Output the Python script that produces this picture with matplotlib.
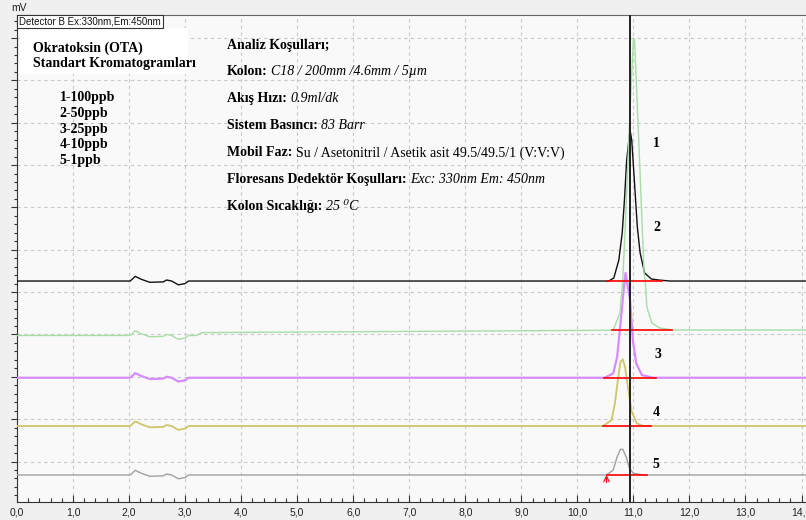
import matplotlib
matplotlib.use('Agg')
from matplotlib import pyplot as plt
from matplotlib.patches import Rectangle
from matplotlib.ticker import MultipleLocator, FuncFormatter

# retention time (min) / signal (mV)
# small solvent front disturbance seen on every trace (offset from baseline)
dist_t = [2.02, 2.11, 2.22, 2.37, 2.61, 2.67, 2.76, 2.88, 3.00, 3.06]
dist_v = [0.0, 0.55, 0.2, -0.15, -0.1, 0.12, 0.0, -0.45, -0.3, 0.0]

# 1 - 100 ppb (black)
base1 = 21.31
peak1_t = [10.56, 10.65, 10.74, 10.80, 10.84, 10.88, 10.94, 10.97, 11.02, 11.07, 11.12, 11.20, 11.32, 11.45, 11.65]
peak1_v = [21.31, 21.66, 23.79, 26.98, 30.87, 35.60, 39.14, 37.96, 32.88, 27.69, 24.62, 22.26, 21.55, 21.43, 21.31]

# 2 - 50 ppb (green), baseline drifts up a little after 3 min
base2 = 14.88
drift2_t = [3.20, 3.30, 10.60]
drift2_v = [14.88, 15.22, 15.50]
peak2_t = [10.64, 10.76, 10.81, 10.85, 10.94, 11.00, 11.02, 11.09, 11.15, 11.19, 11.21, 11.24, 11.33, 11.47, 11.71]
peak2_v = [15.53, 17.53, 21.43, 26.98, 41.50, 50.00, 49.76, 38.78, 28.87, 22.26, 21.43, 18.24, 16.35, 15.76, 15.53]
end2 = 15.53

# 3 - 25 ppb (purple)
base3 = 9.89
peak3_t = [10.49, 10.64, 10.71, 10.77, 10.82, 10.86, 10.94, 10.99, 11.05, 11.15, 11.35]
peak3_v = [9.89, 10.41, 12.37, 16.32, 19.86, 22.26, 19.07, 14.34, 11.59, 10.21, 9.89]

# 4 - 10 ppb (yellow)
base4 = 4.19
peak4_t = [10.46, 10.61, 10.67, 10.73, 10.77, 10.81, 10.85, 10.91, 10.97, 11.06, 11.18]
peak4_v = [4.19, 4.90, 6.87, 10.01, 11.78, 12.07, 11.19, 8.44, 5.88, 4.51, 4.19]

# 5 - 1 ppb (gray)
base5 = -1.59
peak5_t = [10.52, 10.64, 10.71, 10.77, 10.81, 10.87, 10.93, 11.00, 11.18]
peak5_v = [-1.59, -1.00, 0.57, 1.44, 1.44, 0.57, -0.80, -1.39, -1.59]

# integration baselines (start, end)
int1 = [10.53, 11.51]
int2 = [10.62, 11.69]
int3 = [10.47, 11.41]
int4 = [10.46, 11.31]
int5 = [10.52, 11.24]

cursor_t = 10.94
t_end = 14.08

peak_labels = ['1', '2', '3', '4', '5']
label_t = [11.35, 11.35, 11.38, 11.34, 11.34]
label_v = [37.6, 27.6, 12.6, 5.8, -0.4]

conc_labels = ['1-100ppb', '2-50ppb', '3-25ppb', '4-10ppb', '5-1ppb']

cond_bold = ['Kolon:', 'Akış Hızı:', 'Sistem Basıncı:', 'Mobil Faz:',
             'Floresans Dedektör Koşulları:', 'Kolon Sıcaklığı:']
cond_value = ['C18 / 200mm /4.6mm / 5µm', '0.9ml/dk', '83 Barr',
              'Su / Asetonitril / Asetik asit 49.5/49.5/1 (V:V:V)',
              'Exc: 330nm Em: 450nm', '25 ⁰C']
cond_italic = [True, True, True, False, True, True]


def trace(base, peak_t, peak_v, end=None, drift_t=(), drift_v=()):
    t = [0.0] + dist_t + list(drift_t) + peak_t + [t_end]
    v = [base] + [base + d for d in dist_v] + list(drift_v) + peak_v + [end if end is not None else base]
    return t, v


W, H = 806, 520
fig = plt.figure(figsize=(W / 100, H / 100), dpi=100, facecolor='#f0f0f0')
ax = fig.add_axes([17 / W, 18 / H, (W - 17) / W, (502 - 15) / H])
ax.set_facecolor('#f9f9f9')
ax.set_xlim(0, t_end)
ax.set_ylim(-4.78, 52.72)

ax.xaxis.set_major_locator(MultipleLocator(1))
ax.xaxis.set_minor_locator(MultipleLocator(0.2))
ax.yaxis.set_major_locator(MultipleLocator(5))
ax.yaxis.set_minor_locator(MultipleLocator(1))
ax.xaxis.set_major_formatter(FuncFormatter(lambda v, p: ('%.1f' % v).replace('.', ',')))
ax.yaxis.set_major_formatter(FuncFormatter(lambda v, p: '%d' % v))
ax.tick_params(axis='x', which='major', direction='in', length=5, width=0.8, color='#333333',
               labelsize=7.5, labelcolor='#222222', pad=4)
ax.tick_params(axis='x', which='minor', direction='in', length=3, width=0.8, color='#333333')
ax.tick_params(axis='y', which='major', direction='out', length=4, width=0.8, color='#333333',
               labelsize=7.5, labelcolor='#222222', pad=9)
ax.tick_params(axis='y', which='minor', direction='out', length=2.5, width=0.8, color='#333333')
for lab in ax.get_xticklabels() + ax.get_yticklabels():
    lab.set_family('Liberation Sans')
ax.grid(True, which='major', color='#c8c8c8', linestyle=(0, (3, 3)), linewidth=0.8)
ax.set_axisbelow(True)
ax.spines['right'].set_visible(False)
ax.spines['top'].set_color('#666666')
ax.spines['left'].set_color('#333333')
ax.spines['bottom'].set_color('#333333')

t, v = trace(base5, peak5_t, peak5_v)
ax.plot(t, v, color='#a0a0a0', lw=1.0, zorder=3)
t, v = trace(base4, peak4_t, peak4_v)
ax.plot(t, v, color='#cfc56a', lw=1.3, zorder=3)
t, v = trace(base3, peak3_t, peak3_v)
ax.plot(t, v, color='#d68cff', lw=1.6, zorder=3)
t, v = trace(base2, peak2_t, peak2_v, end=end2, drift_t=drift2_t, drift_v=drift2_v)
ax.plot(t, v, color='#a6dea6', lw=1.0, zorder=4)
t, v = trace(base1, peak1_t, peak1_v)
ax.plot(t, v, color='#111111', lw=1.0, zorder=3)

for seg, b in zip([int1, int2, int3, int4, int5], [base1, end2, base3, base4, base5]):
    ax.plot(seg, [b, b], color='#ff0000', lw=1.2, zorder=5)
ax.annotate('', xy=(int5[0], base5), xytext=(int5[0], base5 - 0.9),
            arrowprops=dict(arrowstyle='->', color='#ff0000', lw=0.8, shrinkA=0, shrinkB=0),
            zorder=6)

ax.axvline(cursor_t, color='#222222', lw=1.4, zorder=6)

for s, x, y in zip(peak_labels, label_t, label_v):
    ax.text(x, y, s, fontsize=10, fontweight='bold', family='Liberation Serif',
            ha='left', va='center', zorder=7)


def fx(px):
    return px / W


def fy(py):
    return 1 - py / H


fig.text(fx(11), fy(8), 'mV', fontsize=7.5, family='Liberation Sans', color='#222222',
         ha='left', va='center')
fig.text(fx(19), fy(21.5), 'Detector B Ex:330nm,Em:450nm', fontsize=7, family='Liberation Sans',
         color='#111111', ha='left', va='center',
         bbox=dict(boxstyle='square,pad=0.2', fc='white', ec='#333333', lw=0.8))

fig.patches.append(Rectangle((fx(20), fy(74)), fx(188) - fx(20), fy(28) - fy(74),
                             transform=fig.transFigure, fc='white', ec='none', zorder=2))
fig.text(fx(33), fy(48), 'Okratoksin (OTA)', fontsize=10, fontweight='bold',
         family='Liberation Serif', ha='left', va='center', zorder=8)
fig.text(fx(33), fy(63.5), 'Standart Kromatogramları', fontsize=10, fontweight='bold',
         family='Liberation Serif', ha='left', va='center', zorder=8)

for i, s in enumerate(conc_labels):
    fig.text(fx(59.5), fy(97.3 + 15.85 * i), s, fontsize=10, fontweight='bold',
             family='Liberation Serif', ha='left', va='center')

fig.text(fx(227), fy(45), 'Analiz Koşulları;', fontsize=10, fontweight='bold',
         family='Liberation Serif', ha='left', va='center')

fig.canvas.draw()
renderer = fig.canvas.get_renderer()
for i, (b, val, it) in enumerate(zip(cond_bold, cond_value, cond_italic)):
    y = fy(71.8 + 27.0 * i)
    tb = fig.text(fx(227), y, b, fontsize=10, fontweight='bold',
                  family='Liberation Serif', ha='left', va='center')
    bb = tb.get_window_extent(renderer)
    fig.text((bb.x1 + 3.5) / W, y, val, fontsize=10, style='italic' if it else 'normal',
             family=['Liberation Serif', 'DejaVu Serif'], ha='left', va='center')

plt.savefig('out.png', dpi=100, facecolor=fig.get_facecolor())
